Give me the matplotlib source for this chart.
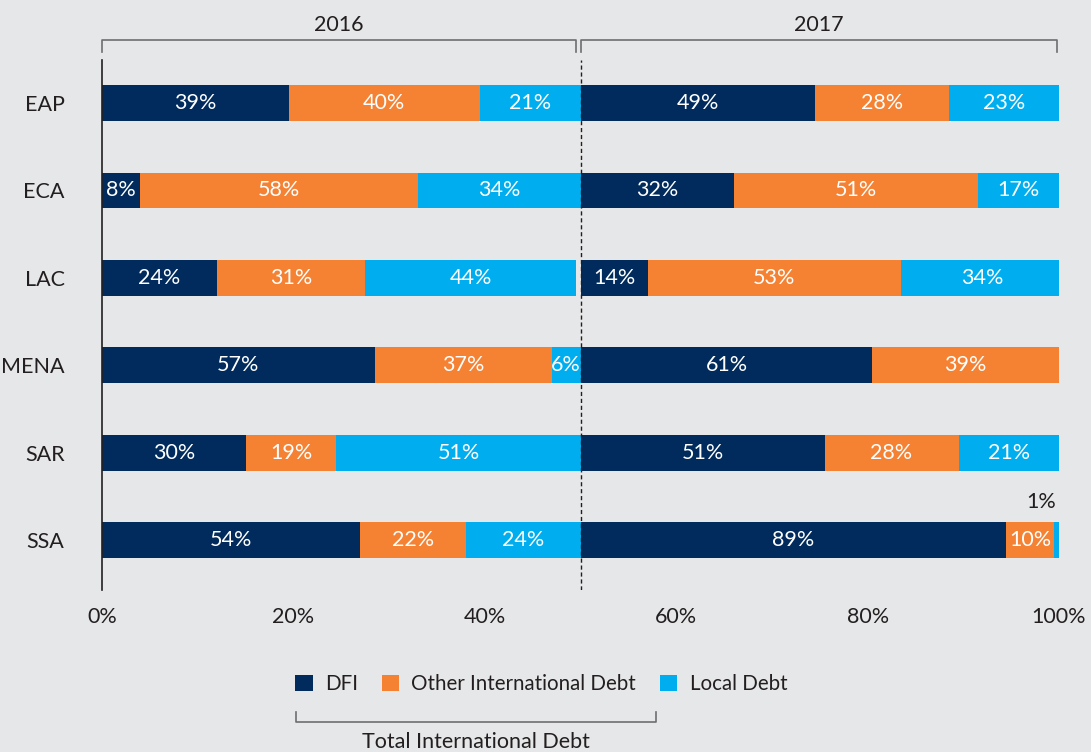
import numpy as np
import matplotlib.pyplot as plt
import matplotlib.transforms as mtransforms

plt.rcParams['font.family'] = ['Lato', 'DejaVu Sans']

regions = ["EAP", "ECA", "LAC", "MENA", "SAR", "SSA"]
series = ["DFI", "Other International Debt", "Local Debt"]
colors = ["#002b5c", "#f58233", "#00aeef"]

# shares (%) per region: DFI, Other International, Local
vals_2016 = np.array([[39, 40, 21],
                      [8, 58, 34],
                      [24, 31, 44],
                      [57, 37, 6],
                      [30, 19, 51],
                      [54, 22, 24]])
vals_2017 = np.array([[49, 28, 23],
                      [32, 51, 17],
                      [14, 53, 34],
                      [61, 39, 0],
                      [51, 28, 21],
                      [89, 10, 1]])
years = ["2016", "2017"]
xticks = [0, 20, 40, 60, 80, 100]
xticklabels = ["0%", "20%", "40%", "60%", "80%", "100%"]

bg = "#e6e7e8"
txt = "#231f20"
fs = 15.5

fig = plt.figure(figsize=(10.91, 7.52), dpi=100, facecolor=bg)
ax = fig.add_axes([0.0935, 0.2154, 0.8772, 0.7046])
ax.set_facecolor(bg)

y = np.arange(len(regions))
h = 0.41
handles = []
for yi, data in enumerate([vals_2016, vals_2017]):
    offset = 50 * yi
    left = np.full(len(regions), float(offset))
    for j in range(3):
        w = data[:, j] * 0.5
        bars = ax.barh(y, w, left=left, height=h, color=colors[j], label=series[j])
        if yi == 0:
            handles.append(bars)
        for i in range(len(regions)):
            v = data[i, j]
            if v == 0:
                continue
            cx = left[i] + w[i] / 2
            if v <= 1:
                # too thin for an inside label, put it above the bar
                ax.text(cx - 1.6, y[i] - 0.44, f"{v}%", ha="center", va="center",
                        color=txt, fontsize=fs)
            else:
                ax.text(cx, y[i], f"{v}%", ha="center", va="center",
                        color="white", fontsize=fs)
        left = left + w

ax.set_xlim(0, 100)
ax.set_ylim(5.57, -0.49)
ax.set_yticks(y)
ax.set_yticklabels(regions, fontsize=fs, color=txt)
ax.set_xticks(xticks)
ax.set_xticklabels(xticklabels, fontsize=fs, color=txt)
ax.tick_params(length=0, pad=12)
ax.tick_params(axis="y", pad=27)
for s in ["top", "right", "bottom"]:
    ax.spines[s].set_visible(False)
ax.spines["left"].set_color(txt)
ax.spines["left"].set_linewidth(1.2)
ax.axvline(50, color=txt, linestyle=(0, (3, 2)), linewidth=1)

# year brackets above the plot
tr = mtransforms.blended_transform_factory(ax.transData, fig.transFigure)
for (x0, x1), yr in zip([(0, 49.5), (50.1, 99.8)], years):
    ax.plot([x0, x0, x1, x1], [0.931, 0.947, 0.947, 0.931], color="#6d6e71",
            linewidth=1.2, transform=tr, clip_on=False)
    ax.text((x0 + x1) / 2, 0.967, yr, ha="center", va="center", fontsize=fs,
            color=txt, transform=tr)

# legend
leg = fig.legend(handles=handles, labels=series, loc="center", ncol=3,
                 bbox_to_anchor=(0.496, 0.0904), frameon=False, fontsize=14.8,
                 handlelength=0.85, handleheight=0.85, handletextpad=0.6,
                 columnspacing=1.15, labelcolor=txt)

# bracket under the legend for international debt
ax.plot([20.3, 20.3, 57.9, 57.9], [0.053, 0.040, 0.040, 0.053], color="#6d6e71",
        linewidth=1.2, transform=tr, clip_on=False)
ax.text((20.3 + 57.9) / 2, 0.013, "Total International Debt", ha="center",
        va="center", fontsize=fs, color=txt, transform=tr)

fig.savefig("out.png", dpi=100, facecolor=bg)
